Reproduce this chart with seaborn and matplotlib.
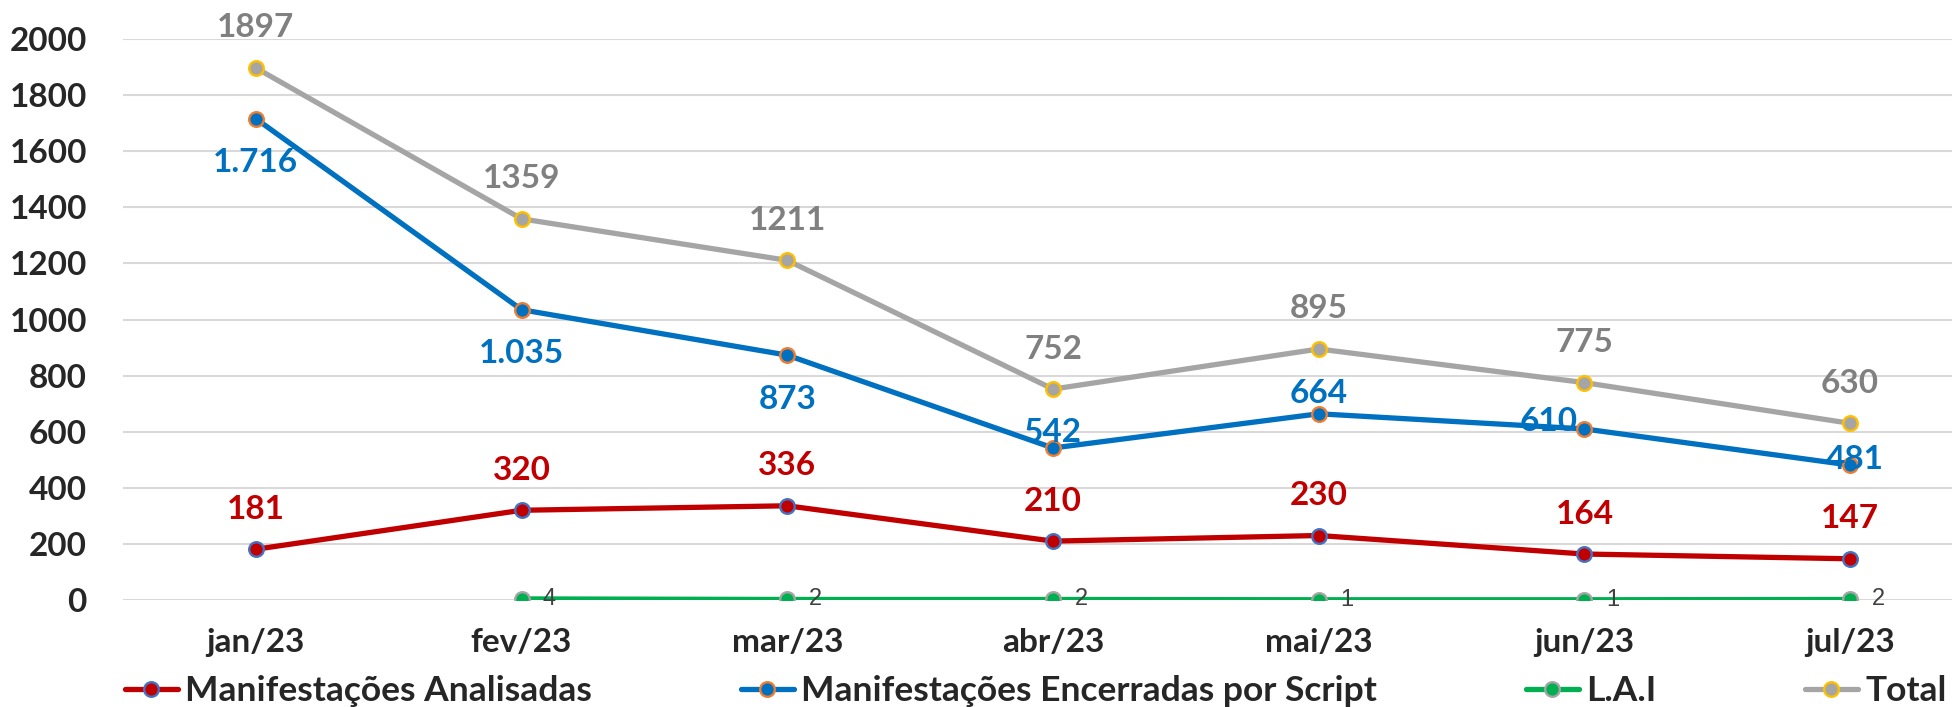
import matplotlib
matplotlib.use("Agg")
import matplotlib.pyplot as plt
import seaborn as sns
import pandas as pd

# chart data
months = ["jan/23", "fev/23", "mar/23", "abr/23", "mai/23", "jun/23", "jul/23"]
analisadas = [181, 320, 336, 210, 230, 164, 147]
encerradas = [1716, 1035, 873, 542, 664, 610, 481]
lai_months = ["fev/23", "mar/23", "abr/23", "mai/23", "jun/23", "jul/23"]
lai = [4, 2, 2, 1, 1, 2]
total = [1897, 1359, 1211, 752, 895, 775, 630]
y_ticks = [0, 200, 400, 600, 800, 1000, 1200, 1400, 1600, 1800, 2000]

sns.set_style("white")
plt.rcParams['font.family'] = ['Lato', 'DejaVu Sans']

df = pd.DataFrame({"mes": months, "analisadas": analisadas,
                   "encerradas": encerradas, "total": total})
df_lai = pd.DataFrame({"mes": lai_months, "lai": lai})

fig, ax = plt.subplots(figsize=(19.52, 7.07), dpi=100)
ax.set_position([0.063, 0.1513, 0.9529, 0.7935])

lw = 3.8
ms = 10.5
mew = 1.7

sns.lineplot(data=df, x="mes", y="analisadas", ax=ax, color="#C00000", linewidth=lw,
             marker="o", markersize=ms, markeredgecolor="#4472C4", markeredgewidth=mew,
             label="Manifestações Analisadas", sort=False)
sns.lineplot(data=df, x="mes", y="encerradas", ax=ax, color="#0070C0", linewidth=lw,
             marker="o", markersize=ms, markeredgecolor="#ED7D31", markeredgewidth=mew,
             label="Manifestações Encerradas por Script", sort=False)
sns.lineplot(data=df_lai, x="mes", y="lai", ax=ax, color="#00B050", linewidth=lw,
             marker="o", markersize=ms, markeredgecolor="#A5A5A5", markeredgewidth=mew,
             label="L.A.I", sort=False)
sns.lineplot(data=df, x="mes", y="total", ax=ax, color="#A5A5A5", linewidth=lw,
             marker="o", markersize=ms, markeredgecolor="#FFC000", markeredgewidth=mew,
             label="Total", sort=False)

# data labels (offsets in pixels)
fs = 24
for i, v in enumerate(total):
    ax.annotate(str(v), (months[i], v), xytext=(0, 40), textcoords="offset pixels",
                ha="center", va="center", color="#808080", fontsize=fs, fontweight="bold")
for i, v in enumerate(analisadas):
    ax.annotate(str(v), (months[i], v), xytext=(0, 40), textcoords="offset pixels",
                ha="center", va="center", color="#C00000", fontsize=fs, fontweight="bold")
blue_off = [(0, -44), (0, -44), (0, -44), (0, 15), (0, 20), (-36, 7), (5, 6)]
for i, v in enumerate(encerradas):
    ax.annotate(f"{v:,}".replace(",", "."), (months[i], v), xytext=blue_off[i],
                textcoords="offset pixels", ha="center", va="center",
                color="#0070C0", fontsize=fs, fontweight="bold")
for m, v in zip(lai_months, lai):
    ax.annotate(str(v), (m, v), xytext=(28, 0), textcoords="offset pixels",
                ha="center", va="center", color="#404040", fontsize=17,
                family=["Liberation Sans", "DejaVu Sans"])

ax.set_xlim(-0.5, 6.5)
ax.set_ylim(0, 2000)
ax.set_yticks(y_ticks)
ax.yaxis.grid(True, color="#D9D9D9", linewidth=1.5)
ax.set_axisbelow(True)
sns.despine(ax=ax, left=True, bottom=True)
ax.tick_params(axis="both", length=0, labelsize=fs)
ax.tick_params(axis="y", pad=26)
ax.tick_params(axis="x", pad=20)
for t in ax.get_xticklabels() + ax.get_yticklabels():
    t.set_fontweight("bold")
ax.set_xlabel("")
ax.set_ylabel("")

ax.get_legend().remove()
handles, labels = ax.get_legend_handles_labels()
fig.legend(handles, labels, ncol=4, loc="center left", bbox_to_anchor=(0.064, 0.0226),
           frameon=False, prop={"weight": "bold", "size": 25.5},
           handlelength=1.5, handletextpad=0.2, columnspacing=4.2, borderpad=0,
           borderaxespad=0)

fig.savefig("out.png", dpi=100)
